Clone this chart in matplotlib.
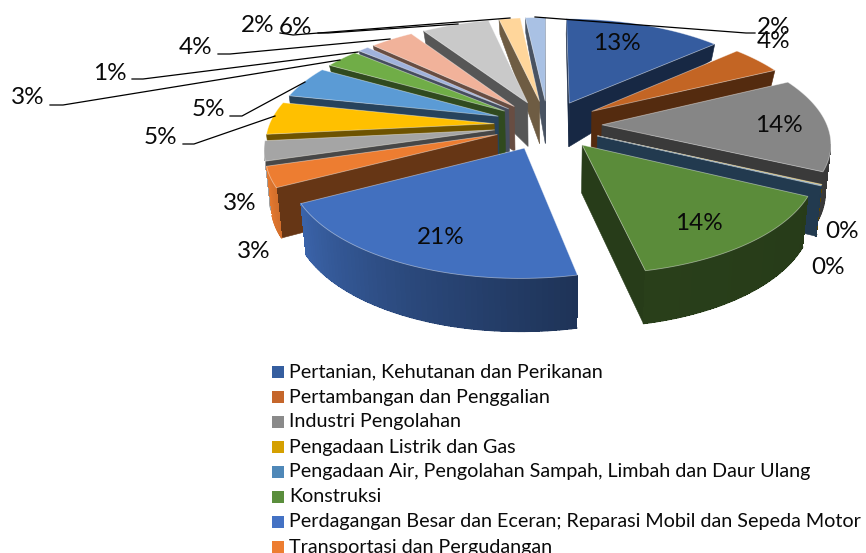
import numpy as np
import matplotlib
matplotlib.use('Agg')
import matplotlib.pyplot as plt
from matplotlib.colors import to_rgb

plt.rcParams['font.family'] = ['Lato', 'DejaVu Sans']

# datos de la grafica
valores = [13.3, 4.4, 14.3, 0.1, 0.1, 14.4, 20.6, 3.1, 3.0, 5.0, 4.9, 2.9, 0.9, 3.7, 5.7, 1.8, 1.7]
colores = ['#355C9F', '#C36524', '#868686', '#D8A300', '#4F86B8', '#5B8C3A', '#4270BF', '#ED7D31',
           '#A5A5A5', '#FFC000', '#5B9BD5', '#70AD47', '#A0B2DC', '#F1B29A', '#C9C9C9', '#FFD69B', '#A9C1E4']
leyenda = ['Pertanian, Kehutanan dan Perikanan', 'Pertambangan dan Penggalian', 'Industri Pengolahan',
           'Pengadaan Listrik dan Gas', 'Pengadaan Air, Pengolahan Sampah, Limbah dan Daur Ulang',
           'Konstruksi', 'Perdagangan Besar dan Eceran; Reparasi Mobil dan Sepeda Motor',
           'Transportasi dan Pergudangan']
colores_leyenda = ['#355E9F', '#C5662B', '#8A8A8A', '#D5A000', '#4F88B8', '#5A8E3C', '#4472C4', '#ED7D31']

# posicion de cada etiqueta, en el mismo orden que valores
etiquetas_x = [617, 774, 779, 842, 828, 699, 441, 240, 254, 160, 208, 28, 110, 196, 295, 258, 774]
etiquetas_y = [43, 42, 125, 231, 267, 223, 237, 203, 251, 137, 110, 97, 73, 47, 28, 25, 27]

# lineas guia
guias = [[(50, 105), (63, 105), (340, 60)],
         [(132, 79), (143, 79), (358, 52)],
         [(218, 54), (230, 54), (390, 39)],
         [(183, 144), (194, 144), (275, 116)],
         [(230, 116), (242, 116), (305, 82)],
         [(280, 33), (293, 35), (510, 18)],
         [(318, 33), (328, 33), (458, 24)],
         [(755, 33), (746, 33), (535, 17)]]

# camara
cx, cy = 548, 125
A, B = 225, 103
p = 0.15
expl = 0.24


def proyectar(X, Y):
    s = 1 / (1 + p * Y)
    return cx + A * X * s, cy - B * Y * s


def abajo(x, y, Y):
    d = np.interp(Y, [-1.2, -0.5, 0.2, 0.6, 1.3], [53, 50, 45, 17, 15])
    return x + (cx - x) * 0.02, y + d


def oscurecer(color, f):
    return tuple(c * f for c in to_rgb(color))


def factor_arco(t):
    return np.interp(t, [110, 167, 205, 241, 255, 360], [0.42, 0.45, 0.65, 0.88, 0.97, 0.97])


fig = plt.figure(figsize=(8.66, 5.53), dpi=100)
ax = fig.add_axes([0, 0, 1, 1])
ax.set_xlim(0, 866)
ax.set_ylim(553, 0)
ax.axis('off')

total = sum(valores)
fin = np.cumsum(valores) / total * 360
inicio = fin - np.array(valores) / total * 360
medio = (inicio + fin) / 2

# de atras hacia adelante
orden = np.argsort(-np.cos(np.radians(medio)))

for i in orden:
    ox = expl * np.sin(np.radians(medio[i]))
    oy = expl * np.cos(np.radians(medio[i]))
    ts = np.linspace(inicio[i], fin[i], 60)
    wx = ox + np.sin(np.radians(ts))
    wy = oy + np.cos(np.radians(ts))
    ax_, ay_ = proyectar(wx, wy)
    tx, ty = proyectar(ox, oy)
    tbx, tby = abajo(tx, ty, oy)
    bx, by = abajo(ax_, ay_, wy)
    oscuro = oscurecer(colores[i], 0.43)

    # paredes radiales, solo las que miran a la camara
    mx, my = ax_[30], ay_[30]
    for k in [0, -1]:
        dx, dy = ax_[k] - tx, ay_[k] - ty
        lado = dx * (my - ty) - dy * (mx - tx)
        visible = (lado < 0 and dx > 0) or (lado > 0 and dx < 0)
        if visible or abs(dx) < 3:
            ax.fill([tx, ax_[k], bx[k], tbx], [ty, ay_[k], by[k], tby], color=oscuro, lw=0.4, zorder=1)

    # pared exterior, sin antialias entre tramos para que no salgan rayas
    frente = ax_[1:] < ax_[:-1]
    for k in np.where(frente)[0]:
        c = oscurecer(colores[i], factor_arco((ts[k] + ts[k + 1]) / 2))
        ax.fill([ax_[k], ax_[k + 1], bx[k + 1], bx[k]], [ay_[k], ay_[k + 1], by[k + 1], by[k]],
                color=c, lw=0, antialiased=False, zorder=1)
    for k in np.where(frente)[0]:
        c = oscurecer(colores[i], factor_arco((ts[k] + ts[k + 1]) / 2))
        ax.plot([bx[k], bx[k + 1]], [by[k], by[k + 1]], color=c, lw=1, solid_capstyle='round', zorder=1)

    # cara de arriba
    ax.fill(np.r_[tx, ax_], np.r_[ty, ay_], facecolor=colores[i], edgecolor=(1, 1, 1, 0.45), lw=0.6, zorder=1)

for g in guias:
    xs, ys = zip(*g)
    ax.plot(xs, ys, color='black', lw=0.9, zorder=3)

for i in range(len(valores)):
    ax.text(etiquetas_x[i], etiquetas_y[i], f'{valores[i]:.0f}%', fontsize=17.5, ha='center', va='center', color='#0A0A0A', zorder=4)

for n, nombre in enumerate(leyenda):
    y = 372 + 25 * n
    ax.fill([272, 284, 284, 272], [y - 6, y - 6, y + 6, y + 6], color=colores_leyenda[n], lw=0)
    ax.text(289, y, nombre, fontsize=14.2, ha='left', va='center', color='#0A0A0A')

fig.savefig('out.png', dpi=100)
